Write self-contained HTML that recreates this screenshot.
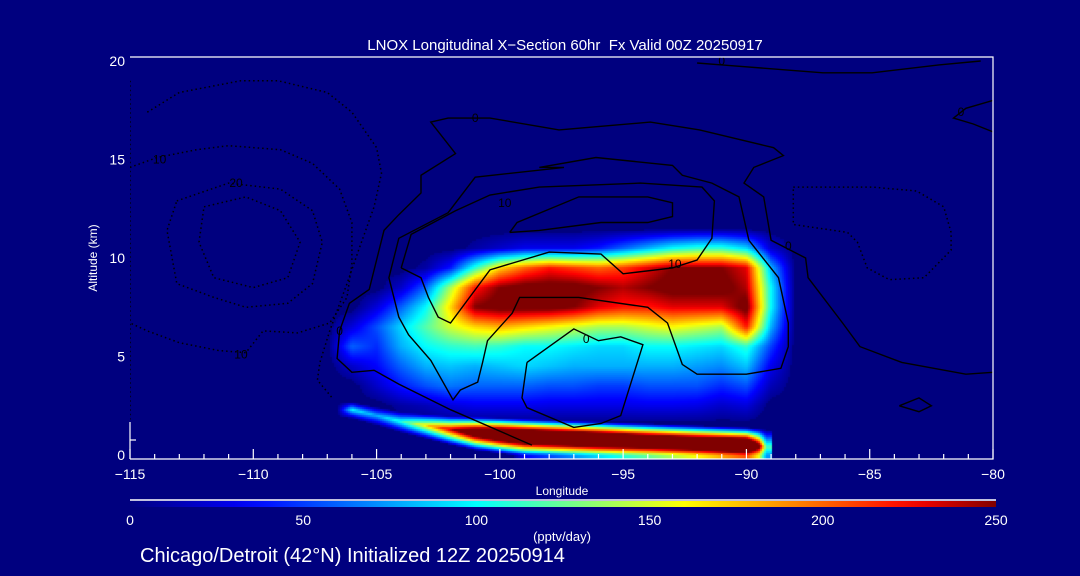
<!DOCTYPE html>
<html><head><meta charset="utf-8"><style>
html,body{margin:0;padding:0;background:#00007f;width:1080px;height:576px;overflow:hidden}
#wrap{position:relative;width:1080px;height:576px}
canvas,svg{position:absolute;left:0;top:0}
text{font-family:"Liberation Sans",sans-serif;fill:#fff}
</style></head><body>
<div id="wrap">
<canvas id="heat" width="1080" height="576"></canvas>
<svg id="svg" width="1080" height="576"></svg>
</div>
<script>
// ---- data ----
const plumeLons = [-107,-106,-105,-104,-103,-102,-101,-100,-99,-98,-97,-96,-95,-94,-93,-92,-91,-90,-89];
const plumeAlts = [2.5,3.5,4.5,5.5,6.5,7.5,8.5,9.5,10.5];
const row25  = [0,0,0,10,15,25,30,30,30,28,28,28,28,30,30,28,20,25,0];
const row35  = [0,0,20,40,55,65,60,60,60,55,55,50,50,55,55,55,45,55,15];
const row45  = [0,20,35,60,80,85,80,85,90,85,80,80,80,80,80,75,70,85,30];
const row55  = [0,60,45,80,100,110,115,110,100,100,95,90,90,100,100,95,90,110,50];
const row65  = [0,25,55,90,120,150,170,180,170,160,150,140,140,150,160,150,140,220,80];
const row75  = [0,0,25,60,100,170,250,260,260,260,250,230,220,220,230,230,230,260,100];
const row85  = [0,0,0,20,60,140,220,250,260,260,260,250,240,250,260,260,260,240,100];
const row95  = [0,0,0,0,10,40,110,170,200,220,210,200,210,230,250,250,250,230,80];
const row105 = [0,0,0,0,0,0,10,20,30,30,30,40,60,80,100,110,110,90,20];
const bandLon = [-106.6,-106,-105,-104,-103,-102,-101,-100,-99,-98,-97,-96,-95,-94,-93,-92,-91,-90,-89.5,-89.2];
const bandAlt = [2.3,2.3,2.0,1.7,1.5,1.3,1.15,1.05,0.95,0.9,0.85,0.8,0.75,0.7,0.65,0.6,0.55,0.5,0.45,0.4];
const bandVal = [0,100,80,110,170,240,330,380,400,400,400,400,390,380,380,380,390,400,280,120];
const bandHalf = [0.4,0.4,0.45,0.5,0.6,0.7,0.8,0.85,0.9,0.9,0.9,0.9,0.9,0.9,0.9,0.9,0.9,0.9,0.9,0.9];
const xTicks = [-115,-110,-105,-100,-95,-90,-85,-80];
const yTicks = [0,5,10,15,20];
const cbTicks = [0,50,100,150,200,250];
// contours (lon, alt)
const contourOuter0 = [[-98.7,0.5],[-102.0,2.3],[-104.1,3.6],[-105.1,4.3],[-106.0,4.2],[-106.6,4.9],[-106.5,6.3],[-106.1,7.7],[-105.3,8.4],[-104.7,11.4],[-104.1,12.2],[-103.2,13.3],[-103.2,14.2],[-101.8,15.3],[-102.8,16.9],[-102.1,17.1],[-100.4,17.1],[-97.6,16.5],[-93.9,16.9],[-91.9,16.5],[-88.9,15.6],[-88.5,15.2],[-89.7,14.6],[-90.1,13.8],[-89.3,13.1],[-89.0,10.9],[-87.6,10.0],[-87.5,9.0],[-86.1,6.7],[-85.4,5.5],[-83.7,4.7],[-81.1,4.1],[-80,4.2]];
const contourRing10 = [[-98.4,14.6],[-96.1,15.1],[-93.0,14.7],[-92.6,14.2],[-91.4,13.8],[-90.3,13.1],[-89.9,10.9],[-88.7,9.0],[-88.3,6.7],[-88.3,5.5],[-88.6,4.4],[-90.0,4.1],[-92.0,4.1],[-92.6,4.6],[-93.2,6.7],[-94.0,7.5],[-96.8,8.0],[-99.2,8.0],[-99.5,7.2],[-100.5,5.8],[-100.7,4.7],[-100.9,3.7],[-101.6,3.3],[-101.9,2.8],[-102.8,4.8],[-103.7,6.1],[-104.1,7.0],[-104.5,9.0],[-104.1,11.0],[-102.1,12.3],[-101.0,14.1],[-97.4,14.6],[-98.4,14.6]];
const contourInner10 = [[-104.0,9.5],[-103.2,9.0],[-102.9,8.0],[-102.5,7.0],[-102.0,6.7],[-100.4,9.4],[-98.0,10.3],[-95.9,10.2],[-95.0,9.2],[-93.0,9.5],[-92.0,9.9],[-91.4,11.0],[-91.3,12.9],[-91.8,13.6],[-94.3,13.8],[-98.4,13.6],[-100.4,13.2],[-101.8,12.4],[-103.6,11.2],[-104.0,9.5]];
const contourCore = [[-99.6,11.3],[-99.3,11.8],[-96.8,13.1],[-95.1,13.1],[-94.0,13.1],[-93.0,12.8],[-93.0,12.1],[-94.0,11.8],[-95.9,11.8],[-98.4,11.4],[-99.6,11.3]];
const contourMid0 = [[-98.9,4.7],[-97.0,6.4],[-96.0,5.8],[-95.1,6.0],[-94.2,5.6],[-95.1,2.0],[-95.9,1.6],[-97.0,1.4],[-98.9,2.4],[-99.1,2.9],[-98.9,4.7]];
const contourTop0 = [[-92.0,19.9],[-91,19.8],[-86.9,19.4],[-84.9,19.4],[-82.2,19.8],[-80.5,20]];
const contourRight0 = [[-80,18.0],[-81.1,17.6],[-81.6,17.1],[-80.8,16.8],[-80,16.4]];
const contourDiamond = [[-83.8,2.5],[-83.0,2.9],[-82.5,2.5],[-83.0,2.2],[-83.8,2.5]];
const dotOuter = [[-114.3,17.4],[-113,18.4],[-110.5,19.0],[-109,19.0],[-107,18.4],[-106,17.4],[-105,15.6],[-104.8,14.3],[-105.1,12.6],[-105.7,10.5],[-106.2,8.7],[-106.9,6.3],[-107.3,4.7],[-107.4,3.8],[-106.8,2.9]];
const dotM10 = [[-115,14.6],[-113.9,15.1],[-112.3,15.5],[-111,15.7],[-108.9,15.5],[-107.6,14.8],[-106.5,13.5],[-106,11.8],[-106,9.7],[-106.2,8.0],[-106.9,6.7],[-108.2,6.2],[-109.6,6.3],[-110.3,5.2],[-111.4,5.3],[-113,5.7],[-114.3,6.3],[-115,6.7]];
const dotM20 = [[-113.1,12.9],[-111,13.8],[-108.9,13.5],[-107.6,12.4],[-107.2,10.8],[-107.6,8.7],[-108.6,7.7],[-110.3,7.5],[-111.6,8.0],[-113.1,8.7],[-113.5,11.4],[-113.1,12.9]];
const dotM30 = [[-112,12.6],[-110.3,13.1],[-108.9,12.4],[-108.1,10.8],[-108.6,9.0],[-110,8.5],[-111.6,9.0],[-112.2,10.8],[-112,12.6]];
const dotRight = [[-88.1,13.6],[-84.9,13.6],[-83.1,13.4],[-82,12.6],[-81.7,11.3],[-81.7,10.4],[-82.8,9.0],[-84.2,8.9],[-85.1,9.5],[-85.5,10.8],[-85.9,11.3],[-88.1,11.7],[-88.1,13.6]];
const dotLeftEdge = [[-115,19],[-115,1.8]];
const contourLabels = [[-101.0,17.1,"0"],[-113.8,15.0,"10"],[-110.7,13.8,"20"],[-110.5,5.1,"10"],[-106.5,6.3,"0"],[-96.5,5.9,"0"],[-92.9,9.7,"10"],[-99.8,12.8,"10"],[-88.3,10.6,"0"],[-91.0,20.0,"0"],[-81.3,17.4,"0"]];

// ---- axes ----
const PL=130, PR=993, PT=57, PB=459;
const X = lon => PL + (lon + 115) / 35 * (PR - PL);
const Y = alt => 455 - alt * 19.7;
const CBL=130, CBR=996;
const CX = v => CBL + v / 250 * (CBR - CBL);

// ---- colormap ----
const cstops=[[0,[0,0,128]],[35,[0,0,255]],[100,[0,255,255]],[130,[128,255,128]],[160,[255,255,0]],[200,[255,100,0]],[225,[255,0,0]],[250,[128,0,0]]];
function cmap(v){v=Math.max(0,Math.min(250,v));for(let i=1;i<cstops.length;i++){if(v<=cstops[i][0]){const a=cstops[i-1],b=cstops[i];const t=(v-a[0])/(b[0]-a[0]);return a[1].map((c,k)=>Math.round(c+(b[1][k]-c)*t));}}return cstops[cstops.length-1][1];}

// ---- heatmap ----
const rows=[row25,row35,row45,row55,row65,row75,row85,row95,row105];
function g(i,j){if(i<0||i>=plumeLons.length||j<0||j>=plumeAlts.length)return 0;return rows[j][i];}
function plume(lon,alt){const fi=lon-plumeLons[0], fj=alt-plumeAlts[0];const i=Math.floor(fi), j=Math.floor(fj);const ti=fi-i, tj=fj-j;
 return g(i,j)*(1-ti)*(1-tj)+g(i+1,j)*ti*(1-tj)+g(i,j+1)*(1-ti)*tj+g(i+1,j+1)*ti*tj;}
function band(lon,alt){if(lon<bandLon[0]||lon>bandLon[bandLon.length-1]+0.2)return 0;
 let k=0;while(k<bandLon.length-2&&lon>bandLon[k+1])k++;
 let t=(lon-bandLon[k])/(bandLon[k+1]-bandLon[k]);t=Math.max(0,Math.min(1,t));
 const c=bandAlt[k]+(bandAlt[k+1]-bandAlt[k])*t, v=bandVal[k]+(bandVal[k+1]-bandVal[k])*t;
 const hh=bandHalf[k]+(bandHalf[k+1]-bandHalf[k])*t;
 const d=alt-c;const h=d>0?hh:hh*1.15;if(Math.abs(d)>h)return 0;return v*(1-Math.abs(d)/h);}
const ctx=document.getElementById('heat').getContext('2d');
const step=2;
for(let px=PL;px<PR;px+=step){const lon=-115+(px+1-PL)/(PR-PL)*35;
 for(let py=PT;py<PB;py+=step){const alt=(455-(py+1))/19.7;
  const v=Math.max(plume(lon,alt),band(lon,Math.max(alt,0)));
  if(v<6)continue;const c=cmap(v);ctx.fillStyle='rgb('+c[0]+','+c[1]+','+c[2]+')';ctx.fillRect(px,py,step,step);}}

// ---- svg ----
const NS='http://www.w3.org/2000/svg';
const svg=document.getElementById('svg');
function el(tag,attrs,parent){const e=document.createElementNS(NS,tag);for(const k in attrs)e.setAttribute(k,attrs[k]);(parent||svg).appendChild(e);return e;}
function txt(x,y,s,size,anchor,parent){const t=el('text',{x:x,y:y,'font-size':size,'text-anchor':anchor||'middle'},parent);t.textContent=s;return t;}
function pts(arr){return arr.map(p=>X(p[0]).toFixed(1)+','+Y(p[1]).toFixed(1)).join(' ');}

const defs=el('defs',{});
const cp=el('clipPath',{id:'clip'},defs);el('rect',{x:PL,y:PT,width:PR-PL,height:PB-PT},cp);
const lg=el('linearGradient',{id:'cbg',x1:0,x2:1,y1:0,y2:0},defs);
for(let v=0;v<=250;v+=10){const c=cmap(v);el('stop',{offset:(v/250),'stop-color':'rgb('+c.join(',')+')'},lg);}

const cg=el('g',{'clip-path':'url(#clip)',fill:'none',stroke:'#000','stroke-width':1.4});


const solid=[['contour-outer-0',contourOuter0],['contour-ring-10',contourRing10],['contour-inner-10',contourInner10],['contour-core',contourCore],['contour-mid-0',contourMid0],['contour-top-0',contourTop0],['contour-right-0',contourRight0],['contour-diamond',contourDiamond]];
solid.forEach(([n,a])=>{const p=el('polyline',{points:pts(a)},cg);
 
 });
const dotted=[['contour-neg-outer',dotOuter],['contour-neg-10',dotM10],['contour-neg-20',dotM20],['contour-neg-30',dotM30],['contour-neg-right',dotRight],['contour-neg-left-edge',dotLeftEdge]];
dotted.forEach(([n,a])=>{const p=el('polyline',{points:pts(a),'stroke-dasharray':'1.5 3','stroke-width':1.5},cg);
 
 });
contourLabels.forEach(l=>{const t=txt(X(l[0]),Y(l[1])+4,l[2],12,'middle',cg);t.setAttribute('style','fill:#000;stroke:none');
 
 });

// frame
const frame=el('g',{stroke:'#fff','stroke-width':1.2,fill:'none'});


el('polyline',{points:PL+','+PB+' '+PR+','+PB+' '+PR+','+PT+' '+PL+','+PT},frame);
el('line',{x1:PL,y1:PB,x2:PL,y2:422},frame);
el('line',{x1:PL,y1:440,x2:PL+6,y2:440},frame);
for(let lon=-115;lon<=-80;lon++){const major=(lon%5===0);
 const t=el('line',{x1:X(lon),y1:PB,x2:X(lon),y2:PB-(major?10:5)},frame);
 
 }

xTicks.forEach(v=>{const t=txt(X(v),479,'\u2212'+Math.abs(v),14);
 
 });
yTicks.forEach(v=>{const t=txt(125,Y(v)+5,String(v),14,'end');
 
 });

const title=txt(565,50,'LNOX Longitudinal X\u2212Section 60hr  Fx Valid 00Z 20250917',15);


title.setAttribute('xml:space','preserve');title.setAttribute('style','white-space:pre');
const xt=txt(562,495,'Longitude',12);


const yt=txt(0,0,'Altitude (km)',12);yt.setAttribute('transform','translate(97,258) rotate(-90)');



// colorbar
const cb=el('g',{});


el('line',{x1:CBL,y1:500,x2:CBR,y2:500,stroke:'#fff','stroke-width':1.5},cb);
el('rect',{x:CBL,y:501,width:CBR-CBL,height:6,fill:'url(#cbg)'},cb);
cbTicks.forEach(v=>{const t=txt(CX(v),525,String(v),14,'middle',cb);
 
 });
const un=txt(562,541,'(pptv/day)',13);


const foot=txt(140,562,'Chicago/Detroit (42\u00B0N) Initialized 12Z 20250914',20,'start');


</script>
</body></html>
